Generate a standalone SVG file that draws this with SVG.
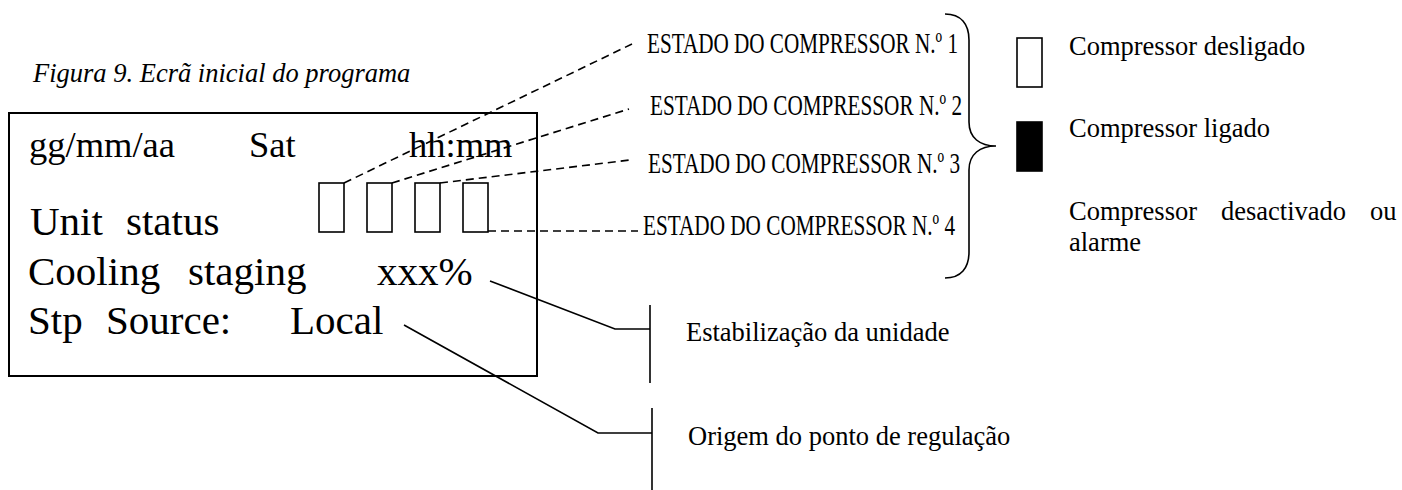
<svg xmlns="http://www.w3.org/2000/svg" width="1402" height="490" viewBox="0 0 1402 490">
<style>
text{font-family:'Liberation Serif','Times New Roman',Times,serif;fill:#000}
.cap{font-size:26.5px;font-style:italic}
.l1{font-size:36.5px}
.lg{font-size:41px}
.est{font-size:30px}
.lab{font-size:26.5px}
.box{fill:#fff;stroke:#000;stroke-width:1.6}
.dash{fill:none;stroke:#000;stroke-width:1.6;stroke-dasharray:8 5}
.solid{fill:none;stroke:#000;stroke-width:1.6}
</style>
<rect width="1402" height="490" fill="#fff"/>
<g font-family="Liberation Serif, Times New Roman, serif">
<text id="caption" class="cap" x="33" y="82">Figura 9. Ecrã inicial do programa</text>
<g id="screen">
<rect x="9" y="113" width="528" height="263" fill="none" stroke="#000" stroke-width="2"/>
<text class="l1" y="157"><tspan x="29">gg/mm/aa</tspan><tspan x="249">Sat</tspan><tspan x="409">hh:mm</tspan></text>
<text class="lg" y="235"><tspan x="30">Unit</tspan><tspan x="126">status</tspan></text>
<text class="lg" y="285"><tspan x="28">Cooling</tspan><tspan x="188">staging</tspan><tspan x="377">xxx%</tspan></text>
<text class="lg" y="334"><tspan x="28">Stp</tspan><tspan x="106">Source:</tspan><tspan x="290">Local</tspan></text>
</g>
<g id="comp1"><rect class="box" x="319" y="183" width="25" height="49"/></g>
<g id="comp2"><rect class="box" x="367" y="183" width="25" height="49"/></g>
<g id="comp3"><rect class="box" x="415" y="183" width="25" height="49"/></g>
<g id="comp4"><rect class="box" x="463" y="183" width="25" height="49"/></g>
<g id="connectors">
<line class="dash" x1="344" y1="183" x2="632" y2="44"/>
<line class="dash" x1="392" y1="183" x2="629" y2="109"/>
<line class="dash" x1="440" y1="183" x2="630" y2="160"/>
<line class="dash" x1="488" y1="231" x2="638" y2="231"/>
<polyline class="solid" points="490,281 615,329 650,329"/>
<line class="solid" x1="650" y1="305" x2="650" y2="383"/>
<polyline class="solid" points="404,325 598,433 652,433"/>
<line class="solid" x1="652" y1="408" x2="652" y2="490"/>
<path class="solid" d="M945,14 C961,14 969,24 969,40 L969,122 C969,138 980,146 996,146 C980,146 969,154 969,170 L969,252 C969,268 961,278 945,278"/>
</g>
<g id="est1"><text class="est" x="647" y="53" textLength="311" lengthAdjust="spacingAndGlyphs">ESTADO DO COMPRESSOR N.º 1</text></g>
<g id="est2"><text class="est" x="650" y="115" textLength="312" lengthAdjust="spacingAndGlyphs">ESTADO DO COMPRESSOR N.º 2</text></g>
<g id="est3"><text class="est" x="648" y="173" textLength="312" lengthAdjust="spacingAndGlyphs">ESTADO DO COMPRESSOR N.º 3</text></g>
<g id="est4"><text class="est" x="643" y="235" textLength="312" lengthAdjust="spacingAndGlyphs">ESTADO DO COMPRESSOR N.º 4</text></g>
<g id="legend-off">
<rect class="box" x="1017" y="38" width="25" height="49"/>
<text class="lab" x="1069" y="55">Compressor desligado</text>
</g>
<g id="legend-on">
<rect x="1017" y="122" width="25" height="49" fill="#000" stroke="#000" stroke-width="1.6"/>
<text class="lab" x="1069" y="137">Compressor ligado</text>
</g>
<g id="legend-alarm">
<text class="lab" y="220"><tspan x="1069">Compressor</tspan><tspan x="1221">desactivado</tspan><tspan x="1370">ou</tspan></text>
<text class="lab" x="1069" y="251">alarme</text>
</g>
<g id="label-staging"><text class="lab" x="686" y="341">Estabilização da unidade</text></g>
<g id="label-source"><text class="lab" x="688" y="445">Origem do ponto de regulação</text></g>
</g>
</svg>
